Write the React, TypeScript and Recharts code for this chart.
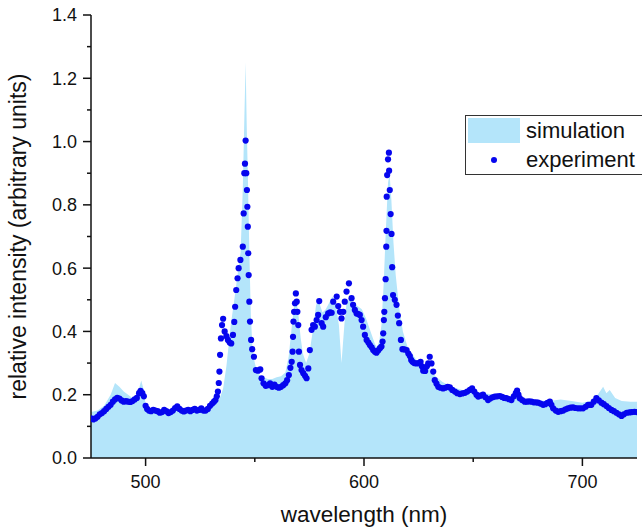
import React from "react";
import {
  ComposedChart,
  Area,
  Scatter,
  XAxis,
  YAxis,
  Legend,
} from "recharts";

// simulated spectrum (wavelength nm, relative intensity)
const simWl = [
  475, 478, 481, 484, 486, 488, 490, 492, 494, 496, 498, 499, 500, 502, 505,
  510, 515, 520, 525, 528, 530, 532, 534, 535.5, 537, 539, 541, 542.5, 543.5,
  544.5, 545.3, 545.8, 546.3, 546.8, 547.5, 548.2, 549, 550, 551, 552, 554,
  556, 558, 560, 562, 564, 565.5, 567, 568, 569, 570, 571, 572, 573.5, 575,
  576.5, 578, 579, 580, 581, 582.5, 584, 585.5, 587, 588.5, 589.7, 591, 592,
  593.5, 595, 597, 599, 601, 603, 605, 606, 607, 608, 609, 610, 611, 611.7,
  612.5, 613.5, 614.5, 616, 617.8, 620, 622, 624, 626, 628, 630, 633, 636,
  640, 645, 650, 655, 660, 665, 670, 675, 680, 685, 690, 695, 700, 704, 707,
  709.5, 711, 712.5, 715, 718, 722, 725,
];
const simVal = [
  0.145, 0.15, 0.165, 0.2, 0.237, 0.225, 0.21, 0.2, 0.19, 0.195, 0.245, 0.22,
  0.17, 0.152, 0.15, 0.148, 0.152, 0.15, 0.152, 0.155, 0.16, 0.175, 0.19,
  0.22, 0.29, 0.42, 0.52, 0.6, 0.65, 0.85, 1.1, 1.25, 1.05, 0.9, 0.65, 0.45,
  0.34, 0.3, 0.275, 0.262, 0.255, 0.25, 0.25, 0.255, 0.258, 0.27, 0.32, 0.42,
  0.48, 0.5, 0.45, 0.38, 0.33, 0.3, 0.33, 0.4, 0.48, 0.505, 0.48, 0.46, 0.47,
  0.49, 0.51, 0.49, 0.42, 0.3, 0.42, 0.49, 0.505, 0.49, 0.48, 0.47, 0.44, 0.4,
  0.36, 0.35, 0.37, 0.42, 0.55, 0.72, 0.87, 0.9, 0.82, 0.68, 0.58, 0.48, 0.4,
  0.35, 0.33, 0.31, 0.3, 0.29, 0.28, 0.257, 0.24, 0.225, 0.215, 0.21, 0.205,
  0.2, 0.195, 0.19, 0.185, 0.182, 0.18, 0.185, 0.18, 0.175, 0.18, 0.2, 0.225,
  0.205, 0.215, 0.19, 0.18, 0.178, 0.178,
];

// measured spectrum
const expWl = [
  475, 476, 477, 478, 479, 480, 481, 482, 483, 484, 485, 486, 487, 488, 489,
  490, 491, 492, 493, 494, 495, 496, 497, 497.7, 498.5, 499.2, 500, 500.7,
  501.5, 502.5, 503.5, 504.5, 505.5, 506.5, 507.5, 508.5, 509.5, 510.5, 511.5,
  512.5, 513.5, 514.5, 515.5, 516.5, 517.5, 518.5, 519.5, 520.5, 521.5, 522.5,
  523.5, 524.5, 525.5, 526.5, 527.5, 528.5, 529.5, 530.5, 531.3, 532, 532.6,
  533.1, 533.5, 533.8, 534.1, 534.5, 535, 535.5, 536.2, 537, 537.7, 538.5,
  539.2, 540, 540.6, 541, 541.5, 542.1, 542.6, 543.4, 544.5, 544.9, 545.2,
  545.5, 545.8, 546.1, 546.4, 546.6, 546.8, 547, 547.2, 547.5, 547.8, 548.3,
  548.8, 549.6, 550.5, 551.5, 552.5, 553.1, 554, 555, 556, 557, 558, 559, 560,
  561, 562, 563, 564, 564.8, 565.6, 566.3, 566.9, 567.3, 567.5, 567.7, 568,
  568.4, 568.8, 569.2, 569.5, 569.9, 570.2, 570.7, 571.4, 572.2, 573, 573.7,
  574.5, 575.2, 576, 576.7, 577.5, 578.3, 579, 579.5, 580.6, 581.3, 582.5,
  583.6, 584.5, 585.2, 585.9, 587.5, 588.2, 589, 589.7, 590.5, 591.2, 592,
  593.1, 594.3, 595, 595.8, 596.6, 597.4, 598.1, 598.9, 599.6, 600.4, 601.2,
  602, 602.7, 603.5, 604.2, 605, 605.7, 606.5, 607.3, 608, 608.5, 608.8, 609.1,
  609.3, 609.6, 609.9, 610.2, 610.3, 610.4, 610.6, 611, 611.4, 611.5, 611.8,
  612.2, 612.6, 612.9, 613.3, 614.1, 614.9, 615.5, 616.1, 616.9, 617.6, 618.5,
  619.5, 620.3, 621, 621.6, 622.2, 623, 624, 625, 625.9, 626.5, 627.1, 628,
  628.8, 629.4, 630.1, 630.9, 631.7, 632.4, 633.2, 634, 635, 636.2, 637.2,
  638.3, 639.3, 640.4, 641.6, 642.7, 643.9, 645, 646.2, 647.3, 648.5, 649.5,
  650.5, 651.5, 652.3, 653.4, 654.5, 655.6, 656.8, 657.8, 658.9, 659.9, 661,
  662.2, 663.2, 664.2, 665.2, 666.4, 667.5, 668.6, 669.5, 670.1, 670.7, 671.3,
  672.4, 673.6, 674.6, 675.6, 676.7, 677.7, 678.7, 679.7, 680.8, 682, 683, 684,
  685.1, 685.8, 686.6, 687.8, 688.9, 690, 691.2, 692.3, 693.4, 694.6, 695.7,
  696.8, 698, 699.1, 700.3, 701.5, 702.6, 703.4, 704.1, 705.2, 706.4, 707.5,
  708.7, 709.8, 711, 712.1, 713.3, 714.4, 715.6, 716.7, 717.9, 719, 720.3,
  721.5, 722.6, 723.8, 725,
];
const expVal = [
  0.125, 0.122, 0.125, 0.13, 0.138, 0.142, 0.148, 0.155, 0.162, 0.168, 0.178,
  0.185, 0.19, 0.188, 0.182, 0.178, 0.18, 0.178, 0.177, 0.18, 0.185, 0.19,
  0.205, 0.212, 0.205, 0.195, 0.165, 0.155, 0.15, 0.148, 0.152, 0.15, 0.148,
  0.143, 0.145, 0.152, 0.148, 0.142, 0.145, 0.15, 0.158, 0.163, 0.155, 0.15,
  0.147, 0.15, 0.152, 0.148, 0.152, 0.155, 0.15, 0.152, 0.157, 0.15, 0.15,
  0.155, 0.165, 0.172, 0.178, 0.183, 0.195, 0.21, 0.237, 0.273, 0.326, 0.378,
  0.42, 0.44, 0.4, 0.385, 0.373, 0.365, 0.362, 0.389, 0.43, 0.478, 0.531,
  0.568, 0.6, 0.626, 0.668, 0.773, 0.9, 0.93, 1.003, 0.9, 0.847, 0.794, 0.731,
  0.647, 0.578, 0.494, 0.431, 0.373, 0.344, 0.32, 0.278, 0.276, 0.28, 0.252,
  0.236, 0.228, 0.23, 0.236, 0.225, 0.232, 0.225, 0.222, 0.225, 0.23, 0.236,
  0.246, 0.262, 0.285, 0.304, 0.336, 0.383, 0.431, 0.462, 0.489, 0.52, 0.494,
  0.462, 0.42, 0.336, 0.294, 0.278, 0.268, 0.26, 0.252, 0.283, 0.341, 0.405,
  0.42, 0.415, 0.436, 0.452, 0.496, 0.426, 0.415, 0.445, 0.457, 0.46, 0.459,
  0.494, 0.51, 0.48, 0.462, 0.441, 0.462, 0.494, 0.526, 0.552, 0.505, 0.484,
  0.468, 0.457, 0.455, 0.452, 0.436, 0.415, 0.389, 0.373, 0.365, 0.357, 0.35,
  0.341, 0.336, 0.333, 0.34, 0.347, 0.352, 0.368, 0.394, 0.436, 0.462, 0.505,
  0.565, 0.668, 0.718, 0.826, 0.894, 0.944, 0.965, 0.908, 0.847, 0.771, 0.708,
  0.603, 0.515, 0.5, 0.484, 0.45, 0.426, 0.373, 0.344, 0.343, 0.341, 0.33,
  0.322, 0.31, 0.304, 0.3, 0.299, 0.3, 0.304, 0.29, 0.276, 0.275, 0.29, 0.299,
  0.32, 0.299, 0.273, 0.246, 0.235, 0.225, 0.222, 0.22, 0.222, 0.225, 0.223,
  0.215, 0.21, 0.205, 0.202, 0.204, 0.206, 0.21, 0.215, 0.22, 0.21, 0.2,
  0.194, 0.197, 0.2, 0.192, 0.183, 0.188, 0.192, 0.194, 0.195, 0.196, 0.193,
  0.19, 0.189, 0.186, 0.183, 0.195, 0.205, 0.213, 0.2, 0.189, 0.183, 0.178,
  0.178, 0.179, 0.178, 0.176, 0.176, 0.175, 0.172, 0.168, 0.17, 0.174, 0.178,
  0.168, 0.157, 0.15, 0.146, 0.148, 0.15, 0.154, 0.157, 0.159, 0.16, 0.158,
  0.157, 0.157, 0.157, 0.162, 0.168, 0.168, 0.168, 0.178, 0.189, 0.182, 0.175,
  0.17, 0.164, 0.158, 0.152, 0.148, 0.143, 0.138, 0.133, 0.138, 0.143, 0.144,
  0.145, 0.146, 0.145,
];

const xTicks = [500, 550, 600, 650, 700];
const xLabels = [500, 600, 700];
const yTicks = [0, 0.1, 0.2, 0.3, 0.4, 0.5, 0.6, 0.7, 0.8, 0.9, 1.0, 1.1, 1.2, 1.3, 1.4];

const simData = simWl.map((wl, i) => ({ wl, v: simVal[i] }));
const expData = expWl.map((wl, i) => ({ wl, v: expVal[i] }));

const FILL = "#b4e5fa";
const DOT = "#0606ee";
const FONT = "'Liberation Sans', Arial, sans-serif";

const YTick = (props: any) => {
  const { x, y, payload } = props;
  const val = payload.value;
  const major = Math.round(val * 10) % 2 === 0;
  return (
    <g>
      <line x1={x + (major ? 6 : 10)} x2={x + 14} y1={y} y2={y} stroke="#111" strokeWidth={1.5} />
      {major && (
        <text x={x} y={y} dy="0.36em" textAnchor="end" fontSize={18} fill="#111" fontFamily={FONT}>
          {val.toFixed(1)}
        </text>
      )}
    </g>
  );
};

const XTick = (props: any) => {
  const { x, y, payload } = props;
  const major = xLabels.includes(payload.value);
  return (
    <g>
      <line x1={x} x2={x} y1={y - 16} y2={y - 16 + (major ? 8 : 4)} stroke="#111" strokeWidth={1.5} />
      {major && (
        <text x={x} y={y} dy="0.76em" textAnchor="middle" fontSize={18} fill="#111" fontFamily={FONT}>
          {payload.value}
        </text>
      )}
    </g>
  );
};

const LegendBox = () => (
  <div
    style={{
      width: 200,
      height: 58,
      border: "1px solid #333",
      background: "#fff",
      position: "relative",
      fontFamily: FONT,
      fontSize: 22,
      color: "#111",
    }}
  >
    <div style={{ position: "absolute", left: 2, top: 2, width: 52, height: 25, background: FILL }} />
    <div style={{ position: "absolute", left: 60, top: 2, lineHeight: "25px" }}>simulation</div>
    <div
      style={{
        position: "absolute",
        left: 25,
        top: 41,
        width: 6,
        height: 6,
        borderRadius: 3,
        background: DOT,
      }}
    />
    <div style={{ position: "absolute", left: 60, top: 31, lineHeight: "25px" }}>experiment</div>
  </div>
);

export default function App() {
  return (
    <div
      style={{
        position: "absolute",
        left: 0,
        top: 0,
        width: 642,
        height: 530,
        overflow: "hidden",
        background: "#fff",
      }}
    >
      <ComposedChart
        width={642}
        height={530}
        margin={{ top: 15, right: 5, left: 0, bottom: 32 }}
        style={{ fontFamily: FONT }}
      >
        <XAxis
          dataKey="wl"
          type="number"
          domain={[475, 725]}
          allowDataOverflow
          ticks={xTicks}
          interval={0}
          height={40}
          tickSize={8}
          tickMargin={8}
          tickLine={false}
          tick={<XTick />}
          axisLine={{ stroke: "#111", strokeWidth: 1.5 }}
          label={{
            value: "wavelength (nm)",
            position: "bottom",
            offset: 8,
            fontSize: 22.5,
            fill: "#111",
          }}
        />
        <YAxis
          type="number"
          domain={[0, 1.4]}
          allowDataOverflow
          ticks={yTicks}
          interval={0}
          width={91}
          tickSize={8}
          tickMargin={6}
          tickLine={false}
          tick={<YTick />}
          axisLine={{ stroke: "#111", strokeWidth: 1.5 }}
          label={{
            value: "relative intensity (arbitrary units)",
            angle: -90,
            position: "insideLeft",
            offset: 18,
            fontSize: 23,
            fill: "#111",
            style: { textAnchor: "middle" },
          }}
        />
        <Area
          data={simData}
          dataKey="v"
          type="linear"
          fill={FILL}
          fillOpacity={1}
          stroke="none"
          isAnimationActive={false}
          name="simulation"
        />
        <Scatter
          data={expData}
          dataKey="v"
          fill={DOT}
          isAnimationActive={false}
          name="experiment"
          shape={(p: any) => <circle cx={p.cx} cy={p.cy} r={3.1} fill={DOT} />}
        />
        <Legend
          layout="horizontal"
          verticalAlign="middle"
          align="center"
          content={<LegendBox />}
          wrapperStyle={{ top: 115, left: 465, width: 200, height: 60 }}
        />
      </ComposedChart>
    </div>
  );
}
